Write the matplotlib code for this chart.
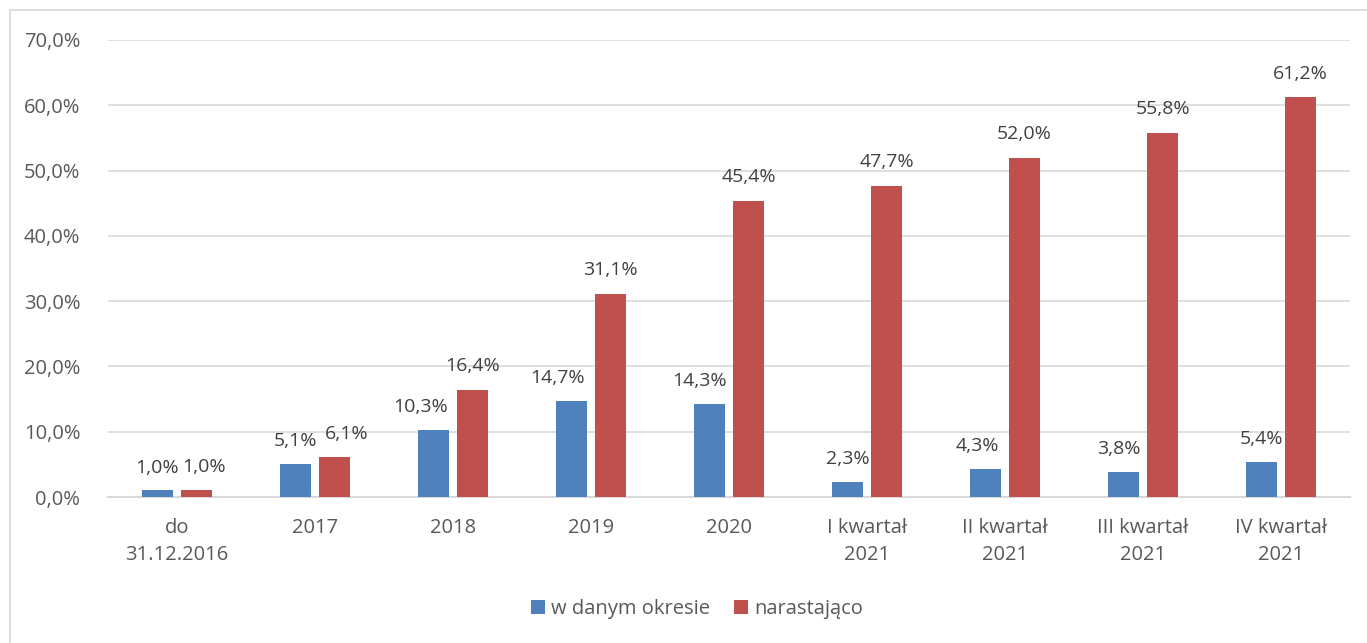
import matplotlib.pyplot as plt
import numpy as np
from matplotlib.patches import Rectangle

plt.rcParams['font.family'] = ['Open Sans', 'DejaVu Sans']

categories = ["do\n31.12.2016", "2017", "2018", "2019", "2020",
              "I kwartał\n2021", "II kwartał\n2021", "III kwartał\n2021", "IV kwartał\n2021"]
w_danym_okresie = [1.0, 5.1, 10.3, 14.7, 14.3, 2.3, 4.3, 3.8, 5.4]
narastajaco = [1.0, 6.1, 16.4, 31.1, 45.4, 47.7, 52.0, 55.8, 61.2]
yticks = [0, 10, 20, 30, 40, 50, 60, 70]

# przesunięcia etykiet (w pikselach), jak w Excelu
dx_blue = [0, 0, -13, -14, -10, 0, -8, -5, 0]
dx_red = [7, 12, 0, 0, 0, 0, 0, 0, 0]

blue = "#4F81BD"
red = "#C0504D"
txt = "#595959"

fig = plt.figure(figsize=(13.67, 6.43), dpi=100)
ax = fig.add_axes([108 / 1367, 1 - 497 / 643, (1350 - 108) / 1367, (497 - 40) / 643])

# ramka wokół wykresu
fig.patches.append(Rectangle((10 / 1367, -0.01), 1.2, 1 - 10 / 643 + 0.01,
                             transform=fig.transFigure, fill=False,
                             edgecolor="#D9D9D9", linewidth=1.2))

x = np.arange(len(categories))
w = 0.225
off = 0.142
b1 = ax.bar(x - off, w_danym_okresie, w, color=blue, label="w danym okresie", zorder=3)
b2 = ax.bar(x + off, narastajaco, w, color=red, label="narastająco", zorder=3)

def fmt(v):
    return f"{v:.1f}%".replace(".", ",")

px = 1 / 138.0
for xi, v, d in zip(x, w_danym_okresie, dx_blue):
    ax.text(xi - off + d * px, v + 3.5, fmt(v), ha="center", va="center",
            fontsize=14, color="#404040")
for xi, v, d in zip(x, narastajaco, dx_red):
    ax.text(xi + off + d * px, v + 3.6, fmt(v), ha="center", va="center",
            fontsize=14, color="#404040")

ax.set_xlim(-0.5, len(categories) - 0.5)
ax.set_ylim(0, 70)
ax.set_yticks(yticks)
ax.set_yticklabels([fmt(t) for t in yticks], fontsize=14.5, color=txt)
ax.set_xticks(x)
ax.set_xticklabels(categories, fontsize=14.5, color=txt, linespacing=1.45)
ax.tick_params(axis="y", length=0, pad=20)
ax.tick_params(axis="x", length=0, pad=15)
ax.grid(axis="y", color="#D9D9D9", linewidth=1.2, zorder=0)
for s in ["top", "right", "left"]:
    ax.spines[s].set_visible(False)
ax.spines["bottom"].set_color("#D9D9D9")
ax.spines["bottom"].set_linewidth(1.5)

leg = fig.legend(handles=[b1, b2], loc="center", bbox_to_anchor=(0.510, 1 - 609 / 643),
                 ncol=2, frameon=False, fontsize=14.5, handlelength=0.7, handleheight=0.7,
                 handletextpad=0.3, columnspacing=1.2)
for t in leg.get_texts():
    t.set_color(txt)

fig.savefig("out.png", dpi=100)
